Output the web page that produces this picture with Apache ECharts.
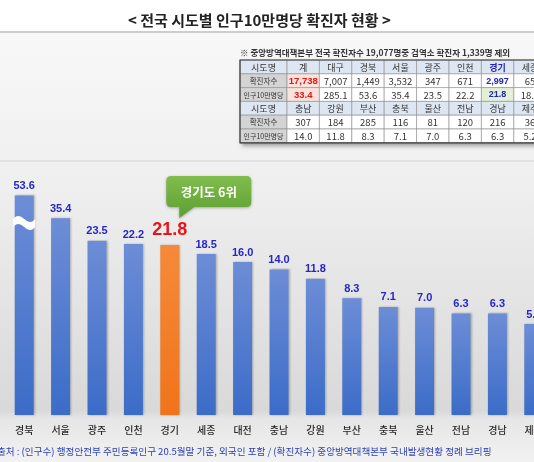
<!DOCTYPE html>
<html>
<head>
<meta charset="utf-8">
<script src="https://cdn.jsdelivr.net/npm/echarts@6/dist/echarts.min.js"></script>
<style>
html,body{margin:0;padding:0;background:#fff;}
#chart{width:534px;height:462px;}
</style>
</head>
<body>
<div id="chart"></div>
<script>
// ---- data ----
const categories = ['경북','서울','광주','인천','경기','세종','대전','충남','강원','부산','충북','울산','전남','경남','제주'];
const rates = [53.6,35.4,23.5,22.2,21.8,18.5,16.0,14.0,11.8,8.3,7.1,7.0,6.3,6.3,5.2];
const highlightCategory = '경기';
const calloutText = '경기도 6위';
const breakCategory = '경북';
const breakValue = 32.5;

const titleText = '< 전국 시도별 인구10만명당 확진자 현황 >';
const noteText = '※ 중앙방역대책본부 전국 확진자수 19,077명중 검역소 확진자 1,339명 제외';
const sourceText = '출처 : (인구수) 행정안전부 주민등록인구 20.5월말 기준, 외국인 포함 / (확진자수) 중앙방역대책본부 국내발생현황 정례 브리핑';

const tableRowHeaders = ['시도명','확진자수','인구10만명당'];
const tableRegions1 = ['계','대구','경북','서울','광주','인천','경기','세종'];
const tableCases1 = ['17,738','7,007','1,449','3,532','347','671','2,997','65'];
const tableRates1 = ['33.4','285.1','53.6','35.4','23.5','22.2','21.8','18.5'];
const tableRegions2 = ['충남','강원','부산','충북','울산','전남','경남','제주'];
const tableCases2 = ['307','184','285','116','81','120','216','36'];
const tableRates2 = ['14.0','11.8','8.3','7.1','7.0','6.3','6.3','5.2'];

// ---- build ----
const chart = echarts.init(document.getElementById('chart'));
const G = echarts.graphic;
const FONT = '"Liberation Sans", "Noto Sans CJK KR", sans-serif';
const NARROW = '"Liberation Sans Narrow", "Noto Sans CJK KR", sans-serif';
const KR = '"Noto Sans CJK KR", sans-serif';

const blueGrad = new G.LinearGradient(0,0,0,1,[{offset:0,color:'#6d8dd6'},{offset:1,color:'#3b6cc8'}]);
const orangeGrad = new G.LinearGradient(0,0,0,1,[{offset:0,color:'#f58a3a'},{offset:1,color:'#f0741a'}]);

const barData = rates.map((v,i)=>{
  const item = {value:v};
  if(categories[i]===highlightCategory){
    item.itemStyle = {color:orangeGrad};
    item.label = {color:'#e8141a', fontSize:18, fontWeight:'bold', distance:6};
  }
  return item;
});

// table graphic
const tableRows = [
  [tableRowHeaders[0]].concat(tableRegions1),
  [tableRowHeaders[1]].concat(tableCases1),
  [tableRowHeaders[2]].concat(tableRates1),
  [tableRowHeaders[0]].concat(tableRegions2),
  [tableRowHeaders[1]].concat(tableCases2),
  [tableRowHeaders[2]].concat(tableRates2)
];
const tX0 = 240, tY0 = 60, firstW = 47, colW = 32.4, rowH = 13.8;
const tableEls = [];
const tW = firstW + colW*8, tH = rowH*6;
tableEls.push({type:'rect', shape:{x:tX0,y:tY0,width:tW,height:tH},
  style:{fill:'#fff', shadowBlur:4, shadowOffsetX:2, shadowOffsetY:3, shadowColor:'rgba(0,0,0,0.35)'}, z:50});
const hiCol = tableRegions1.indexOf(highlightCategory) + 1;
tableRows.forEach((row,r)=>{
  row.forEach((txt,c)=>{
    const x = c===0 ? tX0 : tX0 + firstW + (c-1)*colW;
    const w = c===0 ? firstW : colW;
    const y = tY0 + r*rowH;
    const isHead = (r===0 || r===3);
    let fill = '#ffffff';
    if(isHead) fill = '#dde6f3';
    else if(c===0) fill = '#d4d4d4';
    else if(c===1 && r<3) fill = '#fbe2da';
    else if(c===hiCol && r===2) fill = '#e3efd6';
    tableEls.push({type:'rect', shape:{x:x,y:y,width:w,height:rowH},
      style:{fill:fill, stroke:'#8c8c8c', lineWidth:0.6}, z:51});
    let color = '#333', weight = 'normal', size = 9.5, fam = NARROW;
    if(c===0 && !isHead){ size = (r%3===1) ? 7.5 : 7; }
    if(c===0 && isHead){ size = 9; fam = KR; }
    if(isHead && c>0){ fam = KR; size = 9; }
    if(c===1 && r<3 && r>0){ color='#e01818'; weight='bold'; size=9.5; fam=FONT; }
    if(c===hiCol && r<3){ color='#2424b8'; weight='bold'; size = 9; if(r>0) fam=FONT; }
    tableEls.push({type:'text', x:x+w/2, y:y+rowH/2+0.5, z:52,
      style:{text:txt, fill:color, fontSize:size, fontWeight:weight, fontFamily:fam,
        align:'center', verticalAlign:'middle'}});
  });
});
tableEls.push({type:'rect', shape:{x:tX0,y:tY0,width:tW,height:tH},
  style:{fill:'none', stroke:'#3a3a3a', lineWidth:1.2}, z:53});

const graphics = [
  {type:'rect', shape:{x:0,y:0,width:534,height:33}, style:{fill:'#ffffff'}, z:-100, silent:true},
  {type:'rect', shape:{x:0,y:33,width:534,height:429}, z:-100, silent:true,
    style:{fill:new G.LinearGradient(0,0,0,1,[
      {offset:0,color:'#f8f8f8'},{offset:0.35,color:'#efefef'},
      {offset:0.88,color:'#d9d9d9'},{offset:0.9,color:'#e6e6e6'},{offset:1,color:'#f2f2f2'}])}},
  {type:'line', shape:{x1:0,y1:32,x2:534,y2:32}, style:{stroke:'#bdbdbd', lineWidth:1.5}, z:-90},
  {type:'line', shape:{x1:0,y1:161,x2:534,y2:161}, style:{stroke:'#d4d4d4', lineWidth:1}, z:-90},
  {type:'text', x:-3, y:451, z:10, style:{text:sourceText, fill:'#2a3fb8', fontSize:9.6,
    fontFamily:KR, verticalAlign:'middle'}},
  {type:'text', x:240, y:53, z:10, style:{text:noteText, fill:'#333', fontSize:8.5, fontWeight:'bold',
    fontFamily:KR, verticalAlign:'middle'}},
  {type:'text', x:128, y:20, z:10, style:{text:titleText, fill:'#222', fontSize:15, fontWeight:'bold',
    fontFamily:KR, verticalAlign:'middle'}}
].concat(tableEls);

const breakPath = 'path://M0,4 C3,0 6,0 10,4 C14,8 17,8 20,4 L20,12 C17,16 14,16 10,12 C6,8 3,8 0,12 Z';
const calloutPath = 'path://M5,0 L80,0 Q85,0 85,5 L85,26 Q85,31 80,31 L28,31 L13,42 L13,31 L5,31 Q0,31 0,26 L0,5 Q0,0 5,0 Z';

const option = {
  animation:false,
  textStyle:{fontFamily:FONT},
  grid:{left:6, right:-18, top:161, bottom:47, containLabel:false, outerBoundsMode:'none'},
  xAxis:{type:'category', data:categories,
    axisLine:{show:false}, axisTick:{show:false},
    axisLabel:{color:'#2a2a2a', fontSize:10, margin:10, fontFamily:KR, fontWeight:500}},
  yAxis:{type:'log', logBase:10, min:1, max:100, show:true,
    axisLine:{show:false}, axisTick:{show:false}, axisLabel:{show:false},
    splitLine:{show:false}},
  series:[{
    type:'bar', data:barData, barWidth:19,
    itemStyle:{color:blueGrad, shadowBlur:2, shadowColor:'rgba(0,0,0,0.25)', shadowOffsetX:1, shadowOffsetY:0},
    label:{show:true, position:'top', distance:4, color:'#2626c8', fontSize:11, fontWeight:'bold',
      formatter:p=>p.value.toFixed(1)},
    markPoint:{
      silent:true,
      data:[
        {coord:[categories.indexOf(breakCategory), breakValue], symbol:breakPath, symbolSize:[22,14],
          itemStyle:{color:'#ffffff'}, label:{show:false}},
        {coord:[categories.indexOf(highlightCategory), rates[categories.indexOf(highlightCategory)]],
          symbol:calloutPath, symbolSize:[85,42], symbolOffset:[39,-48],
          itemStyle:{color:new G.LinearGradient(0,0,0,1,[{offset:0,color:'#80bd4e'},{offset:1,color:'#5c9f30'}]),
            shadowBlur:3, shadowColor:'rgba(0,0,0,0.3)', shadowOffsetY:1},
          label:{show:true, formatter:calloutText, color:'#fff', fontSize:12.5, fontWeight:'bold',
            position:'inside', offset:[0,-5], fontFamily:KR}}
      ]
    }
  }],
  graphic:graphics
};
chart.setOption(option);
</script>
</body>
</html>
